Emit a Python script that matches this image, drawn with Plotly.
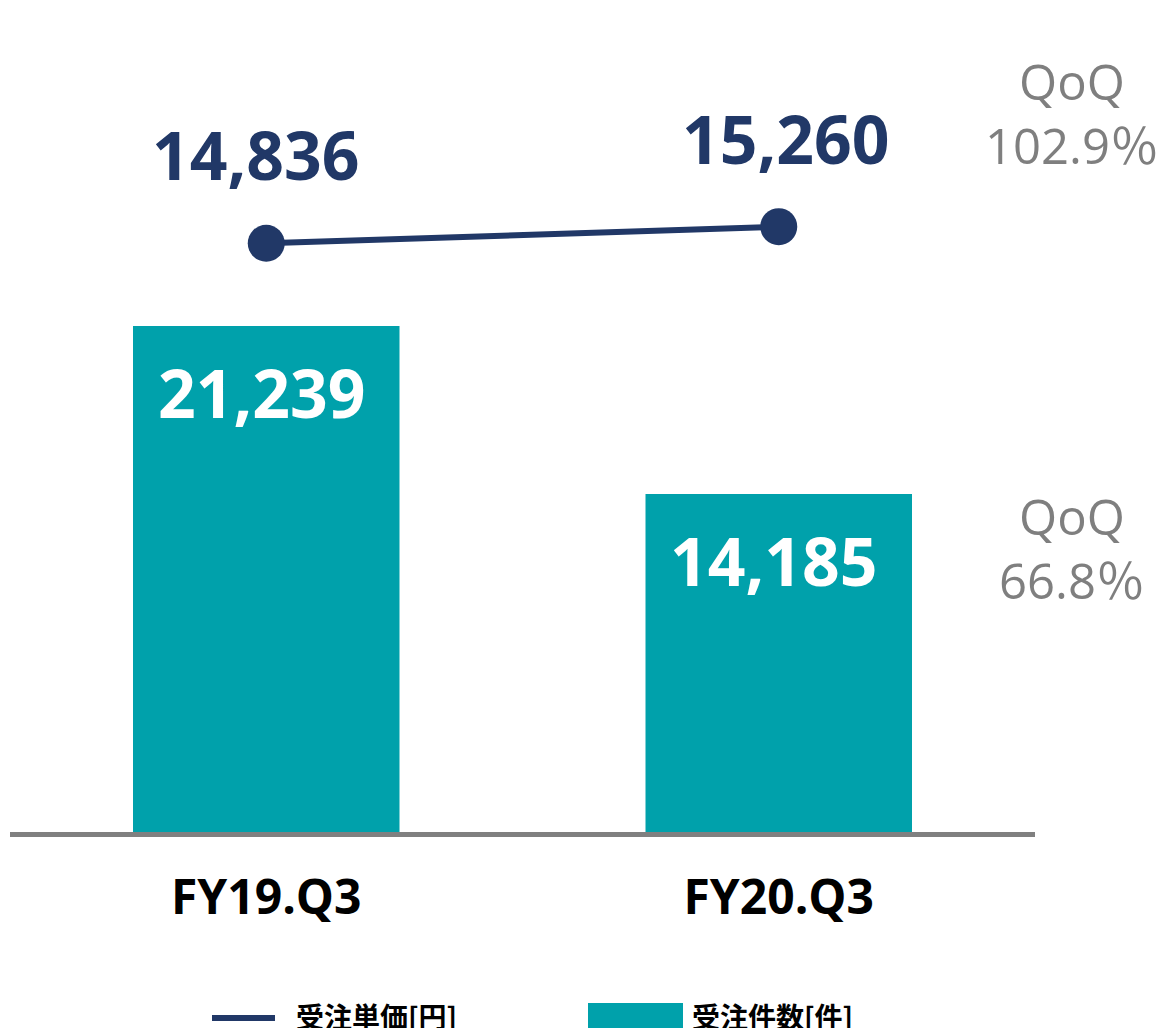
import plotly.graph_objects as go

# ---- data ----
categories = ["FY19.Q3", "FY20.Q3"]
order_count = [21239, 14185]          # 受注件数[件]
unit_price = [14836, 15260]           # 受注単価[円]
count_labels = ["21,239", "14,185"]
price_labels = ["14,836", "15,260"]
qoq_price = "QoQ<br>102.9％"
qoq_count = "QoQ<br>66.8％"
legend_names = ["受注単価[円]", "受注件数[件]"]

NAVY = "#213867"
TEAL = "#00A1AB"
GRAY = "#7F7F7F"

W, H = 1168, 1028
ML, MR, MT, MB = 10, 133, 0, 196
PW, PH = W - ML - MR, H - MT - MB

# label nudges (pixels)
price_label_dx = [-10, 7]
count_label_dx = [-4, -5]


def px(x):
    return (x - ML) / PW


def py(y):
    return (H - MB - y) / PH


fig = go.Figure()
fig.add_trace(go.Bar(
    x=categories, y=order_count, name=legend_names[1],
    marker=dict(color=TEAL, line=dict(width=0)),
    yaxis="y", showlegend=False,
))
fig.add_trace(go.Scatter(
    x=categories, y=unit_price, name=legend_names[0],
    mode="lines+markers", line=dict(color=NAVY, width=6),
    marker=dict(color=NAVY, size=37),
    yaxis="y2", showlegend=False,
))

ann = []
for c, v, t, dx in zip(categories, order_count, count_labels, count_label_dx):
    ann.append(dict(x=c, y=v, xref="x", yref="y", text=t, showarrow=False,
                    xshift=dx, yshift=-66,
                    font=dict(family="Open Sans", size=66, color="white", weight="bold")))
for c, v, t, dx in zip(categories, unit_price, price_labels, price_label_dx):
    ann.append(dict(x=c, y=v, xref="x", yref="y2", text=t, showarrow=False,
                    xshift=dx, yshift=89,
                    font=dict(family="Open Sans", size=66, color=NAVY, weight="bold")))

qfont = dict(family="Open Sans, Noto Sans CJK JP", size=49, color=GRAY)
ann.append(dict(x=px(1072), y=py(113), xref="paper", yref="paper", text=qoq_price,
                showarrow=False, font=qfont, align="center", xanchor="center", yanchor="middle"))
ann.append(dict(x=px(1072), y=py(548), xref="paper", yref="paper", text=qoq_count,
                showarrow=False, font=qfont, align="center", xanchor="center", yanchor="middle"))

lfont = dict(family="Noto Sans CJK JP", size=28, color="black", weight="bold")
ann.append(dict(x=px(294), y=py(1016), xref="paper", yref="paper", text=legend_names[0],
                showarrow=False, font=lfont, xanchor="left", yanchor="middle"))
ann.append(dict(x=px(690), y=py(1016), xref="paper", yref="paper", text=legend_names[1],
                showarrow=False, font=lfont, xanchor="left", yanchor="middle"))

shapes = [
    dict(type="line", xref="paper", yref="paper", x0=px(212), x1=px(275), y0=py(1018), y1=py(1018),
         line=dict(color=NAVY, width=6)),
    dict(type="rect", xref="paper", yref="paper", x0=px(588), x1=px(683), y0=py(1003), y1=py(1032),
         fillcolor=TEAL, line=dict(width=0)),
]

fig.update_layout(
    width=W, height=H,
    margin=dict(l=ML, r=MR, t=MT, b=MB),
    paper_bgcolor="white", plot_bgcolor="white",
    bargap=0.48,
    showlegend=False,
    annotations=ann,
    shapes=shapes,
    xaxis=dict(showline=True, linecolor="#808080", linewidth=5, showgrid=False, zeroline=False,
               ticks="", ticklabelstandoff=19,
               tickfont=dict(family="Open Sans", size=48, color="black", weight="bold")),
    yaxis=dict(range=[0, 34914], visible=False, showgrid=False, zeroline=False),
    yaxis2=dict(range=[-201, 21050], overlaying="y", visible=False, showgrid=False, zeroline=False),
)

fig.write_html("out.html", config={"displayModeBar": False},
               post_script="document.body.style.margin='0';document.body.style.overflow='hidden';")
